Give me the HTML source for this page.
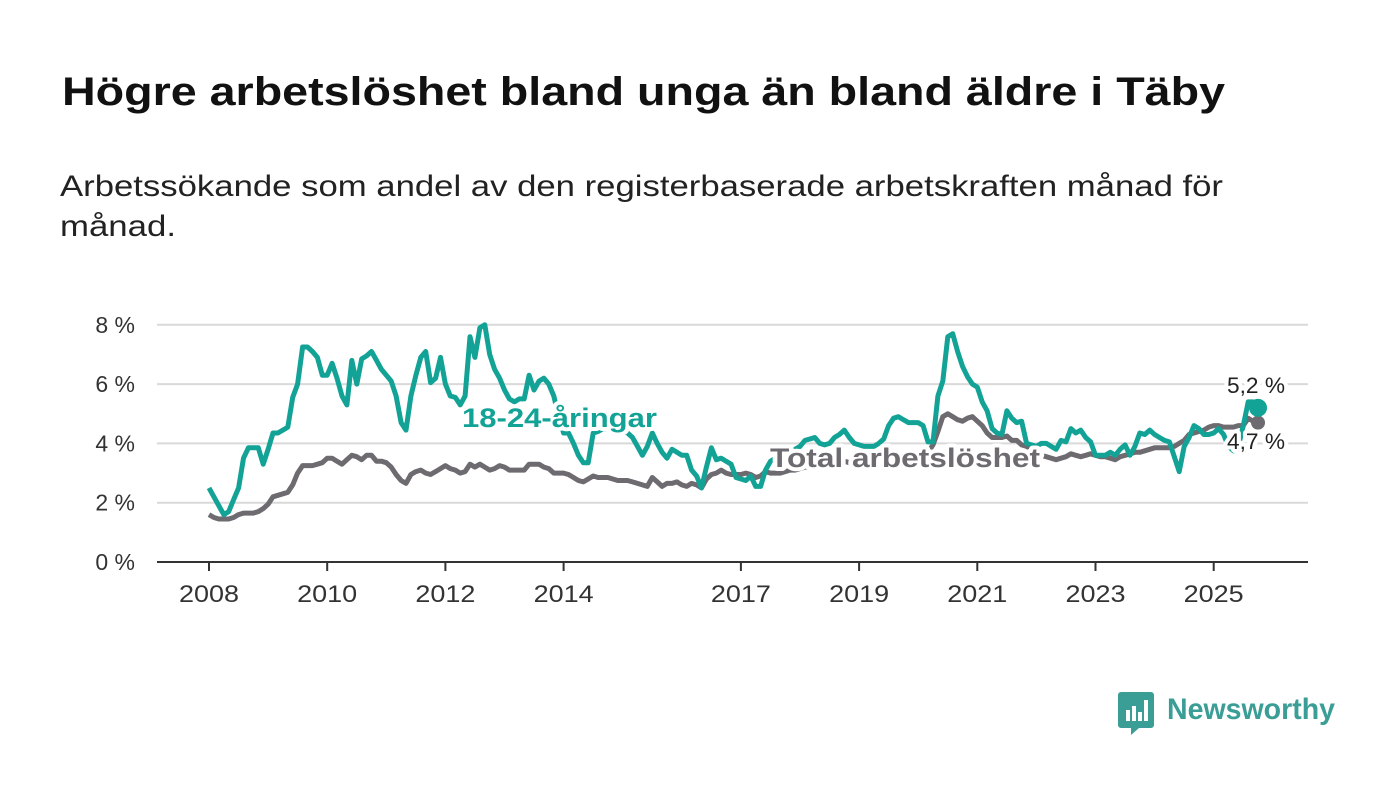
<!DOCTYPE html>
<html><head><meta charset="utf-8"><style>
body{margin:0;background:#fff;}
svg{display:block;font-family:"Liberation Sans","DejaVu Sans",sans-serif;}
</style></head><body>
<svg id="chart" width="1400" height="794" viewBox="0 0 1400 794">
<text x="62" y="105" font-size="40" font-weight="bold" fill="#111" textLength="1163" lengthAdjust="spacingAndGlyphs">Högre arbetslöshet bland unga än bland äldre i Täby</text>
<text x="60" y="196" font-size="30" fill="#222" textLength="1163" lengthAdjust="spacingAndGlyphs">Arbetssökande som andel av den registerbaserade arbetskraften månad för</text>
<text x="60" y="236" font-size="30" fill="#222" textLength="116" lengthAdjust="spacingAndGlyphs">månad.</text>
<g id="grid"></g><g id="axes"></g><g id="lines"></g><g id="labels"></g>
<g>
<path d="M1121 692 h30 a3 3 0 0 1 3 3 v30 a3 3 0 0 1 -3 3 h-12 l-8 7 v-7 h-10 a3 3 0 0 1 -3 -3 v-30 a3 3 0 0 1 3 -3z" fill="#3a9e96"/>
<rect x="1126" y="710" width="4" height="11" fill="#fff"/><rect x="1132" y="706" width="4" height="15" fill="#fff"/><rect x="1138" y="712" width="4" height="9" fill="#fff"/><rect x="1144" y="700" width="4" height="21" fill="#fff"/>
<text x="1167" y="719" font-size="30" font-weight="bold" fill="#3a9e96" textLength="168" lengthAdjust="spacingAndGlyphs">Newsworthy</text>
</g>
</svg>
<script>
const startYear = 2008;
const youth = [
2.5,2.2,1.9,1.6,1.7,2.1,2.5,3.5,3.85,3.85,3.85,3.3,
3.8,4.35,4.35,4.45,4.55,5.55,6.0,7.25,7.25,7.1,6.9,6.3,
6.3,6.7,6.2,5.6,5.3,6.8,6.0,6.85,6.95,7.1,6.8,6.5,
6.3,6.1,5.6,4.7,4.45,5.6,6.3,6.9,7.1,6.05,6.2,6.9,
6.0,5.6,5.55,5.3,5.6,7.6,6.9,7.9,8.0,7.0,6.5,6.2,
5.8,5.5,5.4,5.5,5.5,6.3,5.8,6.1,6.2,6.0,5.6,4.9,
4.35,4.35,4.0,3.6,3.35,3.35,4.35,4.4,4.5,4.5,4.5,4.4,
4.4,4.35,4.2,3.9,3.6,3.9,4.35,4.0,3.7,3.5,3.8,3.7,
3.6,3.6,3.1,2.9,2.5,3.2,3.85,3.45,3.5,3.4,3.3,2.85,
2.8,2.75,2.9,2.55,2.55,3.1,3.4,3.5,3.6,3.6,3.7,3.8,
3.9,4.1,4.15,4.2,4.0,3.95,4.0,4.2,4.3,4.45,4.2,4.0,
3.95,3.9,3.9,3.9,4.0,4.15,4.6,4.85,4.9,4.8,4.7,4.7,
4.7,4.6,4.05,4.05,5.6,6.1,7.6,7.7,7.1,6.6,6.25,6.0,
5.9,5.4,5.1,4.5,4.35,4.3,5.1,4.85,4.7,4.75,4.0,3.95,
3.9,4.0,4.0,3.9,3.8,4.1,4.05,4.5,4.35,4.45,4.2,4.05,
3.6,3.6,3.6,3.7,3.6,3.8,3.95,3.6,3.9,4.35,4.3,4.45,
4.3,4.2,4.1,4.05,3.55,3.05,3.9,4.2,4.6,4.5,4.3,4.3,
4.35,4.5,4.3,3.9,3.75,3.9,4.6,5.4,5.4,5.2];
const total = [
1.6,1.5,1.45,1.45,1.45,1.5,1.6,1.65,1.65,1.65,1.7,1.8,
1.95,2.2,2.25,2.3,2.35,2.6,3.0,3.25,3.25,3.25,3.3,3.35,
3.5,3.5,3.4,3.3,3.45,3.6,3.55,3.45,3.6,3.6,3.4,3.4,
3.35,3.2,2.95,2.75,2.65,2.95,3.05,3.1,3.0,2.95,3.05,3.15,
3.25,3.15,3.1,3.0,3.05,3.3,3.2,3.3,3.2,3.1,3.15,3.25,
3.2,3.1,3.1,3.1,3.1,3.3,3.3,3.3,3.2,3.15,3.0,3.0,
3.0,2.95,2.85,2.75,2.7,2.8,2.9,2.85,2.85,2.85,2.8,2.75,
2.75,2.75,2.7,2.65,2.6,2.55,2.85,2.7,2.55,2.65,2.65,2.7,
2.6,2.55,2.65,2.6,2.5,2.8,2.95,3.0,3.1,3.0,2.95,2.95,
2.95,3.0,2.95,2.85,2.9,3.05,3.0,3.0,3.0,3.05,3.1,3.1,
3.15,3.2,3.2,3.25,3.2,3.2,3.3,3.3,3.35,3.4,3.35,3.35,
3.4,3.4,3.45,3.45,3.5,3.55,3.6,3.65,3.6,3.6,3.65,3.6,
3.6,3.6,3.7,3.95,4.4,4.9,5.0,4.9,4.8,4.75,4.85,4.9,
4.75,4.6,4.35,4.2,4.2,4.2,4.25,4.1,4.1,3.95,3.9,3.8,
3.7,3.6,3.55,3.5,3.45,3.5,3.55,3.65,3.6,3.55,3.6,3.65,
3.6,3.55,3.55,3.5,3.45,3.55,3.6,3.65,3.7,3.7,3.75,3.8,
3.85,3.85,3.85,3.85,3.9,4.0,4.1,4.3,4.35,4.4,4.45,4.55,
4.6,4.6,4.55,4.55,4.55,4.6,4.6,4.85,4.75,4.7];
const yTicks = [0,2,4,6,8];
const xTickYears = [2008,2010,2012,2014,2017,2019,2021,2023,2025];
const youthLabel = "18-24-åringar";
const totalLabel = "Total arbetslöshet";

const NS="http://www.w3.org/2000/svg";
const X0=209, PXY=59.1, Y0=562, PXV=29.65;
const xs=i=>X0+PXY*(i/12);
const xy=yr=>X0+PXY*(yr-startYear);
const ys=v=>Y0-PXV*v;
function mk(tag,parent,attrs){const e=document.createElementNS(NS,tag);for(const k in attrs)e.setAttribute(k,attrs[k]);document.getElementById(parent).appendChild(e);return e;}

yTicks.forEach(t=>{
  const l=mk('line','grid',{x1:157,x2:1308,y1:ys(t),y2:ys(t),stroke:t===0?'#333':'#d9d9d9','stroke-width':2});
  
  
  const tx=mk('text','grid',{x:135,y:ys(t)+8,'text-anchor':'end','font-size':23,fill:'#333'});
  tx.textContent=t+' %';
  
  
});
xTickYears.forEach(yr=>{
  const l=mk('line','axes',{x1:xy(yr),x2:xy(yr),y1:562,y2:571,stroke:'#333','stroke-width':2});
  
  
  const tx=mk('text','axes',{x:xy(yr),y:602,'text-anchor':'middle','font-size':24,fill:'#333',textLength:60,lengthAdjust:'spacingAndGlyphs'});
  tx.textContent=yr;
  
  
});
function path(arr){return arr.map((v,i)=>(i?'L':'M')+xs(i).toFixed(1)+' '+ys(v).toFixed(1)).join('');}
const pt=mk('path','lines',{d:path(total),fill:'none',stroke:'#6d6a70','stroke-width':5,'stroke-linejoin':'round'});


const py=mk('path','lines',{d:path(youth),fill:'none',stroke:'#12a396','stroke-width':5,'stroke-linejoin':'round'});


const lt=total.length-1, ly=youth.length-1;
const dt=mk('circle','lines',{cx:xs(lt),cy:ys(total[lt]),r:7,fill:'#6d6a70'});


const dy=mk('circle','lines',{cx:xs(ly),cy:ys(youth[ly]),r:9,fill:'#12a396'});


function lab(txt,x,y,size,fill,weight,name,anchor,len){
  const a={x:x,y:y,'font-size':size,'font-weight':weight,'text-anchor':anchor||'start','paint-order':'stroke',stroke:'#fff','stroke-width':8,'stroke-linejoin':'round',fill:fill};
  if(len){a.textLength=len;a.lengthAdjust='spacingAndGlyphs';}
  const t=mk('text','labels',a);t.textContent=txt;
  
  
  return t;
}
lab(youthLabel,462,427,27,'#12a396','bold','youth-series-label','start',195);
lab(totalLabel,770,467,27,'#6d6a70','bold','total-series-label','start',270);
lab(youth[ly].toFixed(1).replace('.',',')+' %',1256,393,22,'#222','normal','youth-end-value','middle',58);
lab(total[lt].toFixed(1).replace('.',',')+' %',1256,449,22,'#222','normal','total-end-value','middle',58);
</script>
</body></html>
